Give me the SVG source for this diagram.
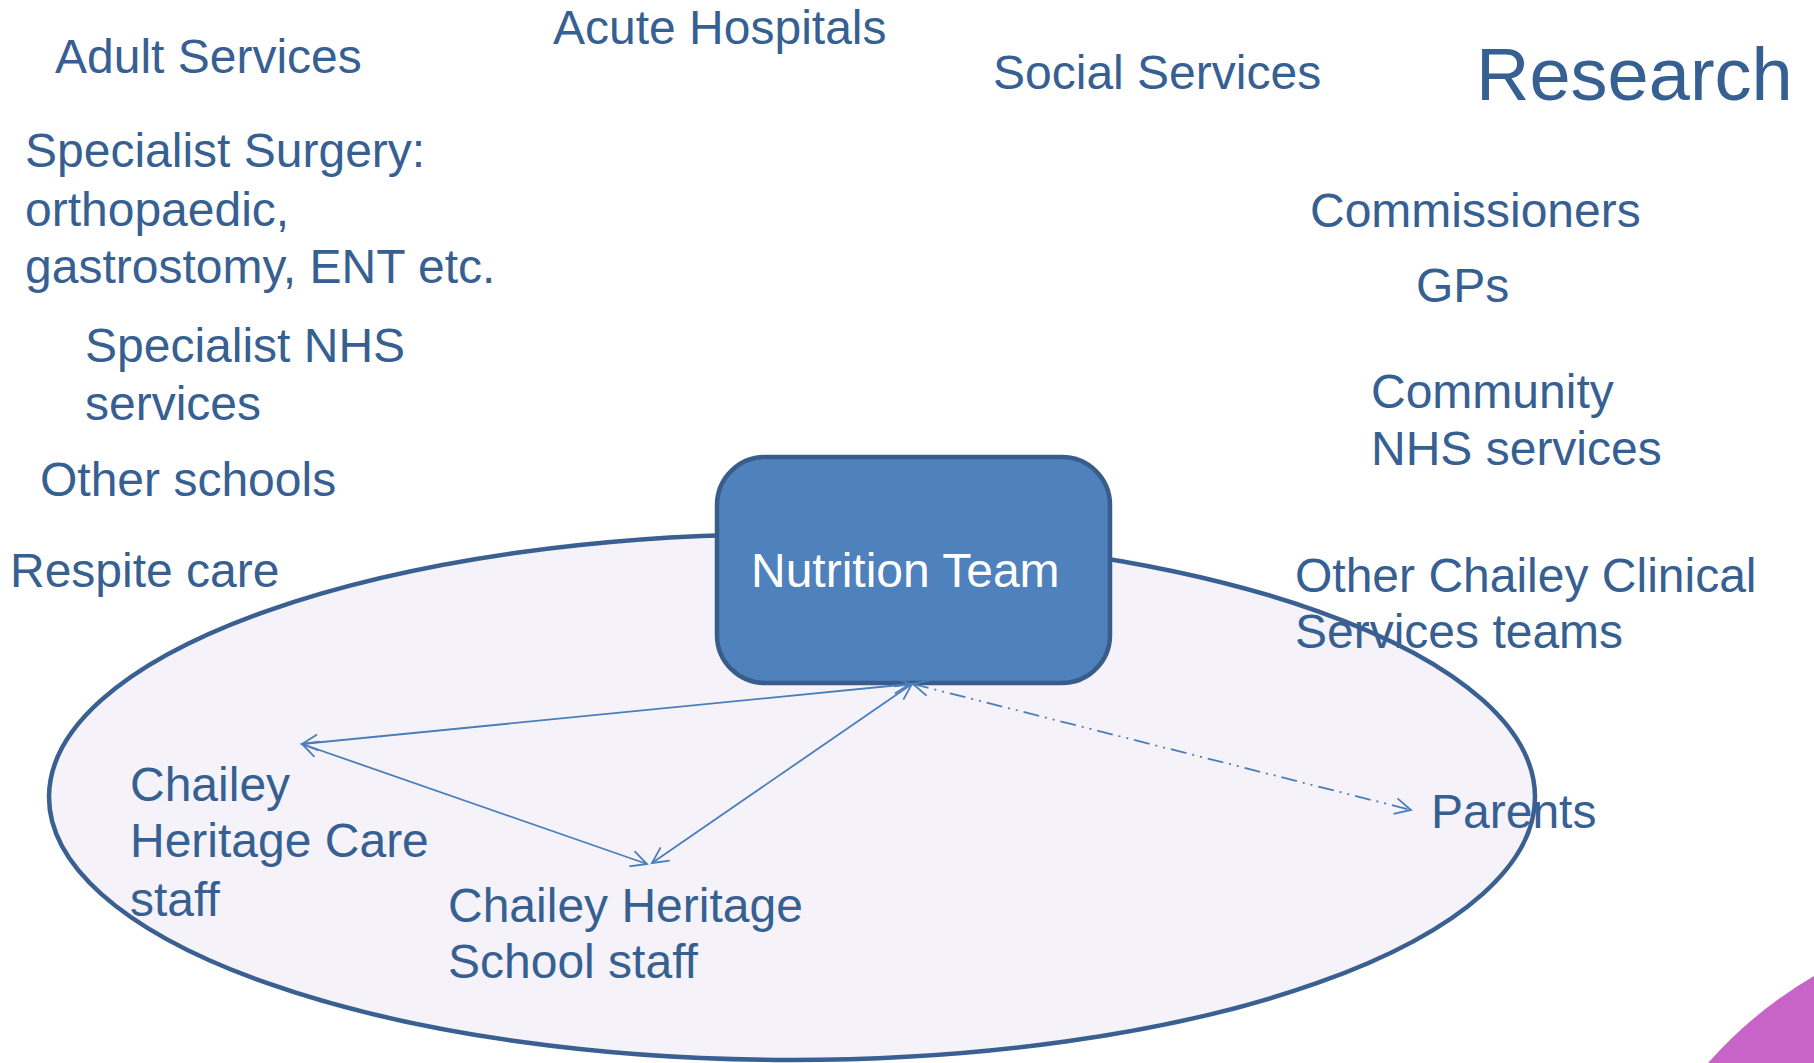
<svg xmlns="http://www.w3.org/2000/svg" width="1814" height="1063" viewBox="0 0 1814 1063">
  <defs>
    <style>
      .lbl { font-family: "Liberation Sans", Arial, sans-serif; font-size: 48px; fill: #376092; }
      .big { font-size: 74px; }
      .conn { stroke: #4A7EBB; stroke-width: 1.8; fill: none; }
      .dd { stroke-dasharray: 16 6 2 6 2 6; }
    </style>
    <marker id="vhead" viewBox="0 0 20 20" refX="18" refY="10" markerWidth="20" markerHeight="20" markerUnits="userSpaceOnUse" orient="auto-start-reverse">
      <path d="M2,2 L18,10 L2,18" fill="none" stroke="#4A7EBB" stroke-width="1.8"/>
    </marker>
  </defs>
  <rect x="0" y="0" width="1814" height="1063" fill="#FFFFFF"/>

  <!-- corner decoration -->
  <path d="M1708,1063 Q1754,1011 1814,976 L1814,1063 Z" fill="#C864C8"/>

  <!-- ellipse fill -->
  <ellipse id="circle-fill" cx="792" cy="797" rx="743" ry="263" fill="#F5F3F9"/>

  <g id="adult-services"><text class="lbl" x="55" y="73">Adult Services</text></g>
  <g id="acute-hospitals"><text class="lbl" x="553" y="44">Acute Hospitals</text></g>
  <g id="social-services"><text class="lbl" x="993" y="89">Social Services</text></g>
  <g id="research"><text class="lbl big" x="1476" y="100">Research</text></g>
  <g id="specialist-surgery">
    <text class="lbl" x="25" y="167">Specialist Surgery:</text>
    <text class="lbl" x="25" y="226">orthopaedic,</text>
    <text class="lbl" x="25" y="283">gastrostomy, ENT etc.</text>
  </g>
  <g id="specialist-nhs">
    <text class="lbl" x="85" y="362">Specialist NHS</text>
    <text class="lbl" x="85" y="420">services</text>
  </g>
  <g id="other-schools"><text class="lbl" x="40" y="496">Other schools</text></g>
  <g id="respite-care"><text class="lbl" x="10" y="587">Respite care</text></g>
  <g id="commissioners"><text class="lbl" x="1310" y="227">Commissioners</text></g>
  <g id="gps"><text class="lbl" x="1416" y="302">GPs</text></g>
  <g id="community-nhs">
    <text class="lbl" x="1371" y="408">Community</text>
    <text class="lbl" x="1371" y="465">NHS services</text>
  </g>
  <g id="other-chailey">
    <text class="lbl" x="1295" y="592">Other Chailey Clinical</text>
    <text class="lbl" x="1295" y="648">Services teams</text>
  </g>
  <g id="parents"><text class="lbl" x="1431" y="828">Parents</text></g>
  <g id="care-staff">
    <text class="lbl" x="130" y="801">Chailey</text>
    <text class="lbl" x="130" y="857">Heritage Care</text>
    <text class="lbl" x="130" y="916">staff</text>
  </g>
  <g id="school-staff">
    <text class="lbl" x="448" y="922">Chailey Heritage</text>
    <text class="lbl" x="448" y="978">School staff</text>
  </g>

  <!-- ellipse outline -->
  <ellipse id="circle-outline" cx="792" cy="797" rx="743" ry="263" fill="none" stroke="#3A5F91" stroke-width="4.5"/>

  <g id="nutrition-team">
    <rect x="717" y="457" width="393" height="226" rx="48" ry="48" fill="#4F81BD" stroke="#385D8A" stroke-width="4.5"/>
    <text class="lbl" x="751" y="587" style="fill:#FFFFFF">Nutrition Team</text>
  </g>

  <g id="connectors">
    <line class="conn" x1="910" y1="684" x2="302" y2="744" marker-start="url(#vhead)" marker-end="url(#vhead)"/>
    <line class="conn" x1="302" y1="744" x2="647" y2="864" marker-start="url(#vhead)" marker-end="url(#vhead)"/>
    <line class="conn" x1="912" y1="684" x2="652" y2="863" marker-start="url(#vhead)" marker-end="url(#vhead)"/>
    <line class="conn dd" x1="913" y1="684" x2="1411" y2="810" marker-start="url(#vhead)" marker-end="url(#vhead)"/>
  </g>
</svg>
